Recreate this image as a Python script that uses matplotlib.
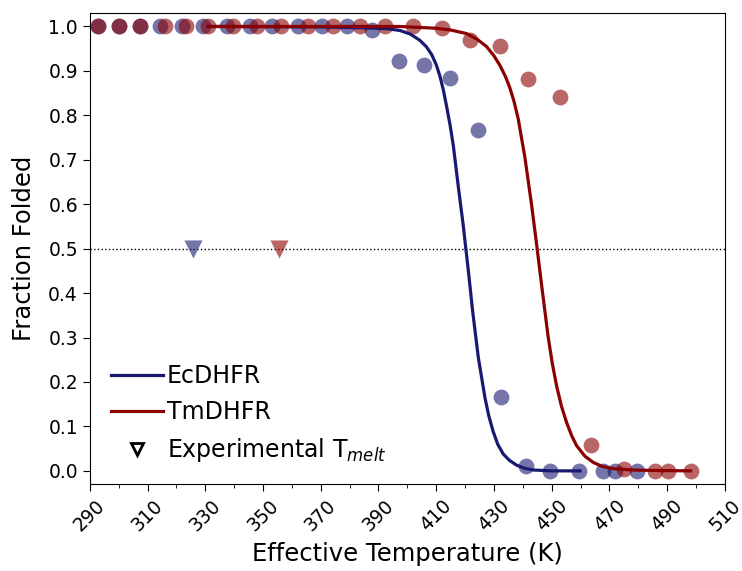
import numpy as np
import matplotlib
matplotlib.use('Agg')
import matplotlib.pyplot as plt
from matplotlib.lines import Line2D

# measured points (effective temperature in K, fraction folded)
ec_temp = [292.9, 300.2, 307.3, 314.3, 322.1, 329.3, 337.4, 345.4, 353.0, 362.2,
           370.3, 379.0, 387.6, 397.1, 405.8, 414.7, 424.3, 432.4, 441.1, 449.4,
           459.4, 467.6, 471.9, 479.6]
ec_frac = [1.0, 1.0, 1.0, 1.0, 1.0, 1.0, 1.0, 1.0, 1.0, 1.0,
           1.0, 1.0, 0.992, 0.922, 0.914, 0.884, 0.768, 0.166, 0.01, 0.0,
           0.0, 0.0, 0.0, 0.0]

tm_temp = [292.9, 300.2, 307.3, 316.0, 323.5, 331.0, 339.7, 347.8, 356.4, 365.6,
           374.3, 383.6, 392.2, 402.0, 411.9, 421.7, 432.1, 441.9, 452.9, 463.5,
           475.0, 485.8, 490.4, 498.1]
tm_frac = [1.0, 1.0, 1.0, 1.0, 1.0, 1.0, 1.0, 1.0, 1.0, 1.0,
           1.0, 1.0, 1.0, 1.0, 0.997, 0.969, 0.957, 0.881, 0.841, 0.058,
           0.004, 0.0, 0.0, 0.0]

# fitted curves
ec_fit_t = [331.0, 370.0, 385.0, 393.0, 397.4, 401.0, 404.3, 406.5, 408.4, 410.0,
            411.3, 412.5, 413.6, 414.8, 415.9, 417.6, 419.4, 420.2, 421.1, 422.6,
            424.6, 426.9, 428.2, 429.7, 431.3, 433.2, 435.3, 437.8, 440.5, 443.6,
            450.0, 459.8]
ec_fit_y = [1.0, 0.999, 0.997, 0.995, 0.991, 0.983, 0.969, 0.955, 0.937, 0.914,
            0.888, 0.856, 0.820, 0.778, 0.733, 0.642, 0.550, 0.503, 0.452, 0.360,
            0.254, 0.164, 0.124, 0.089, 0.060, 0.038, 0.024, 0.013, 0.006, 0.002,
            0.0, 0.0]

tm_fit_t = [331.0, 397.4, 410.0, 415.0, 420.5, 424.0, 427.4, 430.0, 432.1, 434.0,
            435.5, 437.0, 438.4, 440.7, 443.0, 444.9, 446.5, 448.8, 450.2, 451.7,
            453.4, 455.2, 457.0, 458.6, 461.5, 464.4, 467.5, 471.3, 478.0, 485.0,
            498.1]
tm_fit_y = [1.0, 1.0, 0.996, 0.992, 0.984, 0.972, 0.955, 0.934, 0.912, 0.887,
            0.862, 0.830, 0.792, 0.706, 0.600, 0.503, 0.418, 0.300, 0.242, 0.191,
            0.145, 0.108, 0.078, 0.057, 0.033, 0.019, 0.010, 0.005, 0.002, 0.001,
            0.0]

# experimental melting temperatures
ec_tmelt = 325.8
tm_tmelt = 355.6

EC_COLOR = '#191970'
TM_COLOR = '#8b0000'

fig = plt.figure(figsize=(7.42, 5.71), dpi=100)
ax = fig.add_axes([0.121, 0.152, 0.856, 0.825])

ax.scatter(ec_temp, ec_frac, s=130, color=EC_COLOR, alpha=0.6, linewidths=0, zorder=2)
ax.scatter(tm_temp, tm_frac, s=130, color=TM_COLOR, alpha=0.6, linewidths=0, zorder=2)

ax.plot(ec_fit_t, ec_fit_y, color=EC_COLOR, lw=2.3, zorder=3)
ax.plot(tm_fit_t, tm_fit_y, color=TM_COLOR, lw=2.3, zorder=3)

ax.axhline(0.5, color='black', ls=':', lw=1, zorder=1)
ax.scatter([ec_tmelt], [0.5], marker='v', s=170, color=EC_COLOR, alpha=0.6, linewidths=0, zorder=2)
ax.scatter([tm_tmelt], [0.5], marker='v', s=170, color=TM_COLOR, alpha=0.6, linewidths=0, zorder=2)

ax.set_xlim(290, 510)
ax.set_ylim(-0.03, 1.03)
ax.set_xticks(np.arange(290, 511, 20))
ax.set_xticks(np.arange(300, 510, 20), minor=True)
ax.set_yticks(np.arange(0, 1.01, 0.1))
ax.set_yticklabels([f'{v:.1f}' for v in np.arange(0, 1.01, 0.1)])
ax.tick_params(axis='both', which='major', labelsize=13.5, length=5)
ax.tick_params(axis='x', which='minor', length=3)
plt.setp(ax.get_xticklabels(), rotation=45)

ax.set_xlabel('Effective Temperature (K)', fontsize=17.5, labelpad=5)
ax.set_ylabel('Fraction Folded', fontsize=17.5, labelpad=9)

handles = [
    Line2D([], [], color=EC_COLOR, lw=2.3),
    Line2D([], [], color=TM_COLOR, lw=2.3),
    Line2D([], [], ls='none', marker='v', markersize=9, markerfacecolor='white',
           markeredgecolor='black', markeredgewidth=2),
]
ax.legend(handles, ['EcDHFR', 'TmDHFR', 'Experimental T$_{melt}$'],
          loc='lower left', bbox_to_anchor=(0.008, 0.008), fontsize=17,
          frameon=False, handlelength=2.2, handletextpad=0.15, labelspacing=0.5,
          borderaxespad=0.3)

fig.savefig('out.png', dpi=100)
